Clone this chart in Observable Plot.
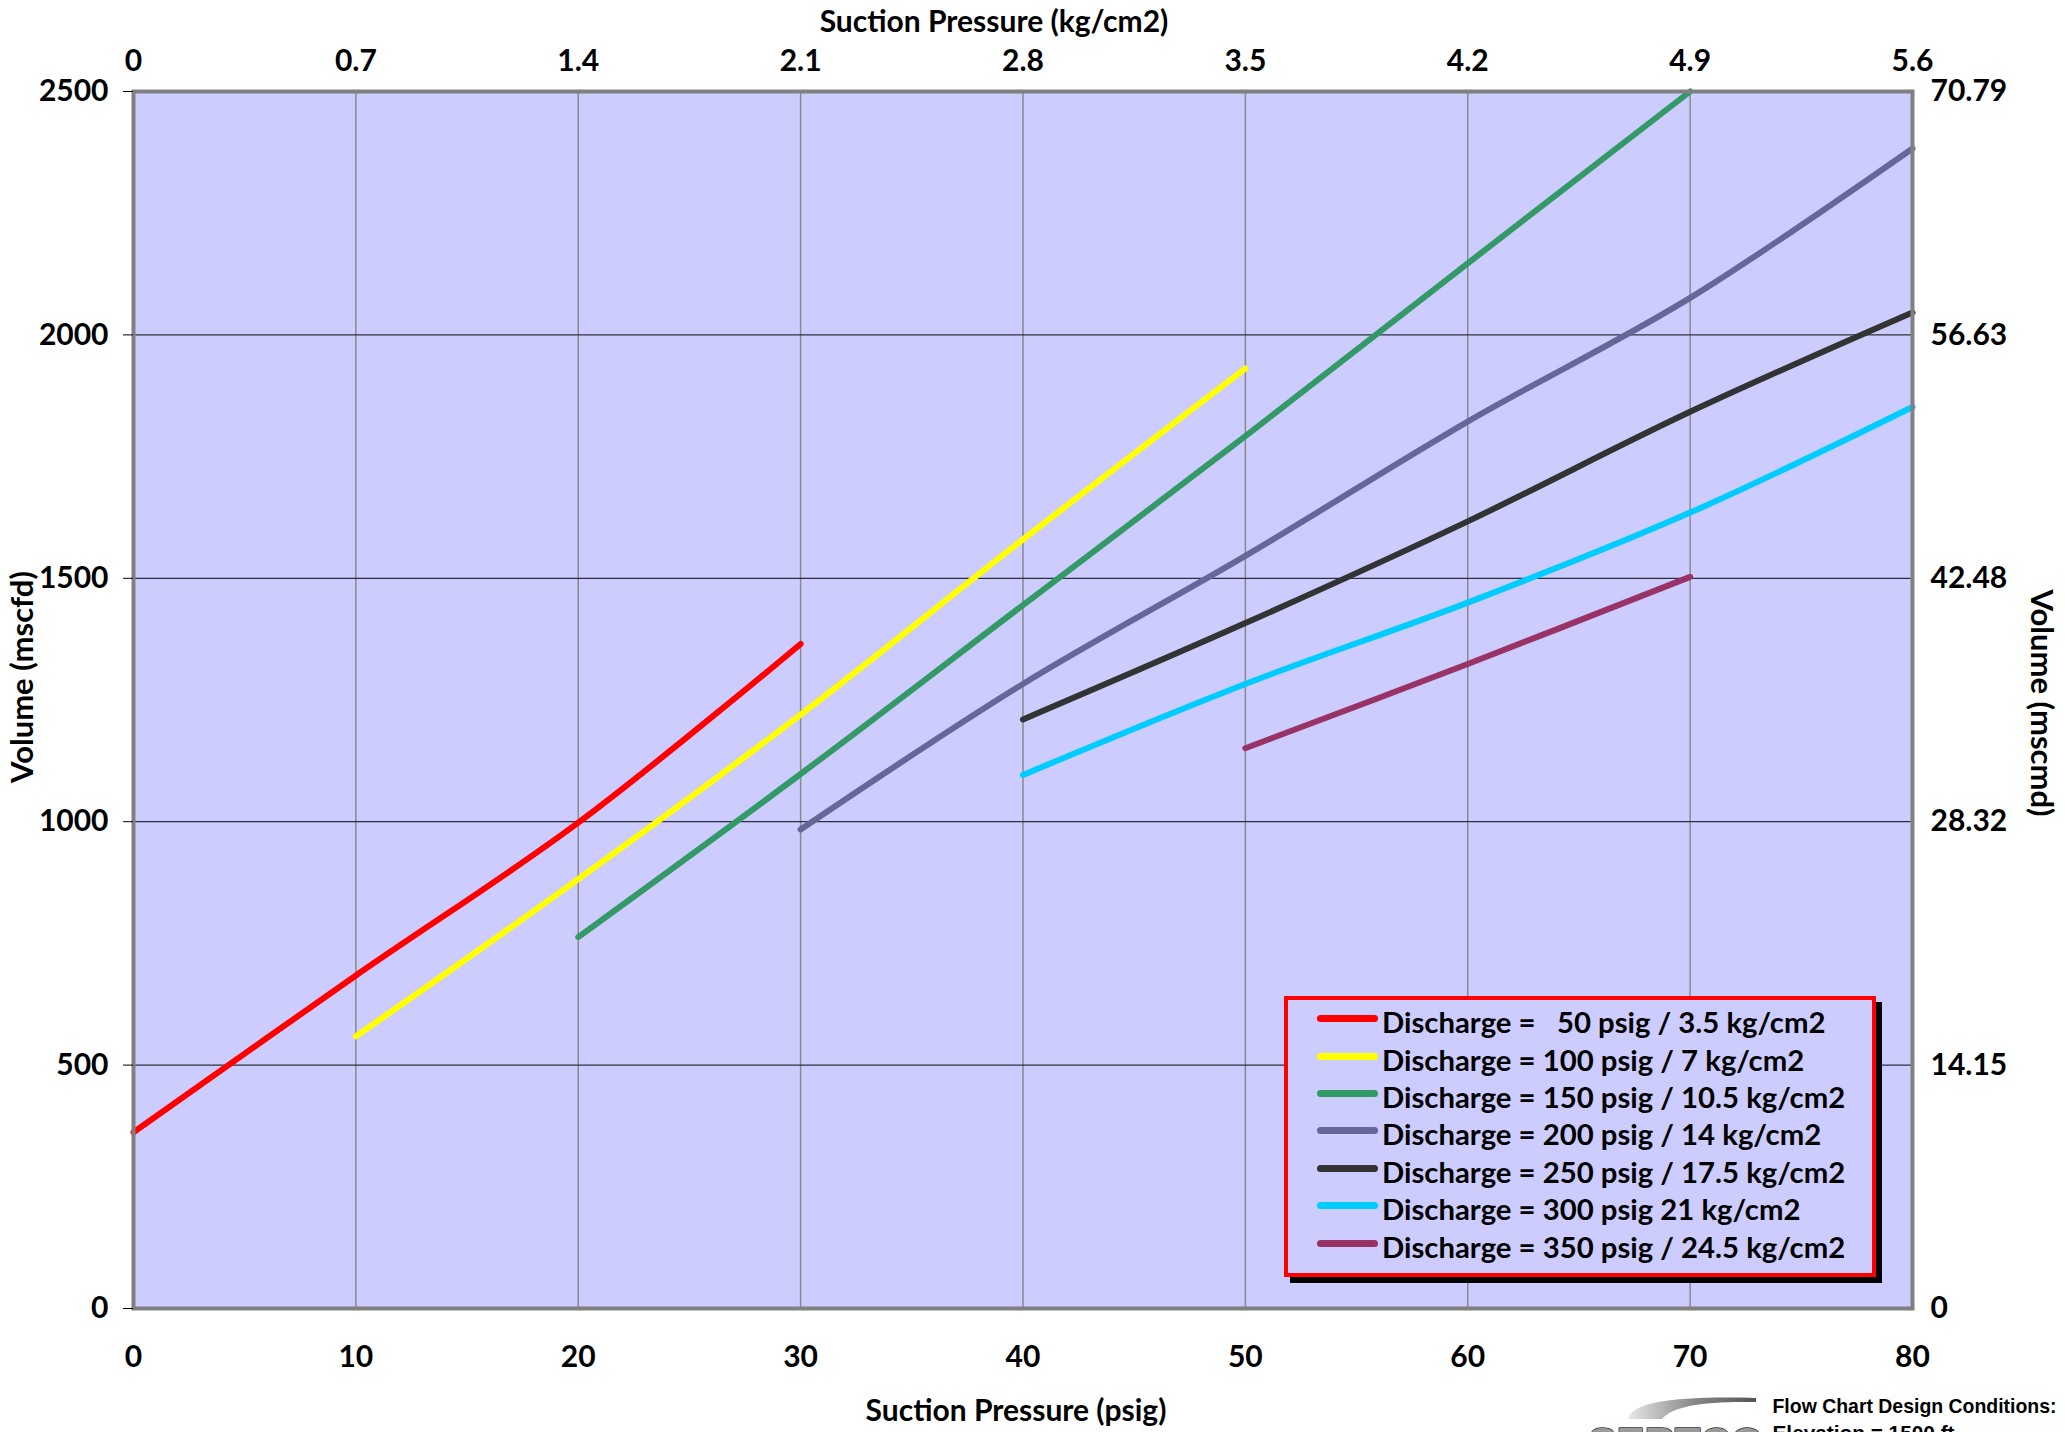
<!DOCTYPE html>
<html><head><meta charset="utf-8">
<script src="https://cdn.jsdelivr.net/npm/d3@7"></script>
<script src="https://cdn.jsdelivr.net/npm/@observablehq/plot@0.6"></script>
<style>
html,body{margin:0;padding:0;background:#fff;}
#wrap{position:relative;width:2065px;height:1432px;overflow:hidden;}
#legend{position:absolute;left:1284px;top:996px;width:592px;height:281px;box-sizing:border-box;border:4px solid #ff0000;background:#CCCCFF;box-shadow:6px 6px 0 #000;font-family:Lato,sans-serif;font-weight:bold;font-size:29.3px;color:#000;}
.row{display:flex;align-items:center;height:37.4px;white-space:pre;}
.sw{width:61px;height:7px;border-radius:4px;margin-left:29px;margin-right:4px;flex:none;}
.lt{position:relative;top:3px;}
</style></head><body><div id="wrap"></div>
<script>
// ---- data ----
const suctionPsig = [0, 10, 20, 30, 40, 50, 60, 70, 80];
const seriesNames = [
  "Discharge =   50 psig / 3.5 kg/cm2",
  "Discharge = 100 psig / 7 kg/cm2",
  "Discharge = 150 psig / 10.5 kg/cm2",
  "Discharge = 200 psig / 14 kg/cm2",
  "Discharge = 250 psig / 17.5 kg/cm2",
  "Discharge = 300 psig 21 kg/cm2",
  "Discharge = 350 psig / 24.5 kg/cm2"
];
const discharge50  = [362, 684, 998, 1365, null, null, null, null, null];
const discharge100 = [null, 559, 882, 1220, 1580, 1931, null, null, null];
const discharge150 = [null, null, 763, 1098, 1445, 1792, 2147, 2500, null];
const discharge200 = [null, null, null, 984, 1283, 1546, 1822, 2076, 2383];
const discharge250 = [null, null, null, null, 1210, 1408, 1617, 1842, 2046];
const discharge300 = [null, null, null, null, 1096, 1283, 1450, 1635, 1852];
const discharge350 = [null, null, null, null, null, 1151, 1324, 1503, null];
const seriesValues = [discharge50, discharge100, discharge150, discharge200, discharge250, discharge300, discharge350];

const xTicks = [0, 10, 20, 30, 40, 50, 60, 70, 80];
const topLabels = ["0", "0.7", "1.4", "2.1", "2.8", "3.5", "4.2", "4.9", "5.6"];
const yTicks = [0, 500, 1000, 1500, 2000, 2500];
const rightLabels = ["0", "14.15", "28.32", "42.48", "56.63", "70.79"];

// ---- styles ----
const colors = ["#FF0000", "#FFFF00", "#339966", "#666699", "#333333", "#00CCFF", "#993366"];

const rows = [];
seriesNames.forEach((name, s) => {
  seriesValues[s].forEach((v, i) => {
    if (v != null) rows.push({name, psig: suctionPsig[i], volume: v});
  });
});
const topMap = new Map(xTicks.map((v, i) => [v, topLabels[i]]));
const rightMap = new Map(yTicks.map((v, i) => [v, rightLabels[i]]));

const font = "Lato, sans-serif";
const fs = 30;
const footFont = "Liberation Sans, Arial, sans-serif";
const chart = Plot.plot({
  width: 2065, height: 1432,
  marginLeft: 133, marginRight: 153, marginTop: 91, marginBottom: 124,
  style: {fontFamily: font, fontSize: "30px", fontWeight: "bold", background: "#fff", color: "#000"},
  x: {domain: [0, 80], axis: null, label: null},
  y: {domain: [0, 2500], axis: null, label: null},
  color: {domain: seriesNames, range: colors},
  marks: [
    Plot.frame({fill: "#CCCCFF"}),
    Plot.gridX(xTicks, {stroke: "#8a8a8a", strokeOpacity: 1, strokeWidth: 1.5}),
    Plot.gridY(yTicks, {stroke: "#2e2e3a", strokeOpacity: 1, strokeWidth: 1.3}),
    Plot.line(rows, {x: "psig", y: "volume", z: "name", stroke: "name", strokeWidth: 6, strokeLinecap: "round", strokeLinejoin: "round", curve: "catmull-rom"}),
    Plot.frame({stroke: "#808080", strokeWidth: 4}),
    Plot.axisY(yTicks, {anchor: "left", tickSize: 10, tickPadding: 15, label: null, fontWeight: "bold", fontSize: fs, tickFormat: d => String(d)}),
    Plot.axisY(yTicks, {anchor: "right", tickSize: 0, tickPadding: 18, label: null, fontWeight: "bold", fontSize: fs, tickFormat: d => rightMap.get(d)}),
    Plot.axisX(xTicks, {anchor: "bottom", tickSize: 0, tickPadding: 37, label: null, fontWeight: "bold", fontSize: fs, tickFormat: d => String(d)}),
    Plot.axisX(xTicks, {anchor: "top", tickSize: 0, tickPadding: 21, label: null, fontWeight: "bold", fontSize: fs, tickFormat: d => topMap.get(d)}),
    Plot.text(["Suction Pressure (kg/cm2)"], {frameAnchor: "top", textAnchor: "middle", dx: -29, dy: -81, fontSize: fs, fontWeight: "bold"}),
    Plot.text(["Suction Pressure (psig)"], {frameAnchor: "bottom", textAnchor: "middle", dx: -7, dy: 112, fontSize: fs, fontWeight: "bold"}),
    Plot.text(["Volume (mscfd)"], {frameAnchor: "left", textAnchor: "middle", rotate: -90, dx: -110, dy: -23, fontSize: 31, fontWeight: "bold"}),
    Plot.text(["Volume (mscmd)"], {frameAnchor: "right", textAnchor: "middle", rotate: 90, dx: 128, dy: 3, fontSize: 31, fontWeight: "bold"}),
    Plot.text(["Flow Chart Design Conditions:"], {className: "foot1", frameAnchor: "bottom-right", textAnchor: "start", lineAnchor: "bottom", dx: -140, dy: 104, fontFamily: footFont, fontWeight: "bold", fontSize: 21}),
    Plot.text(["Elevation = 1500 ft"], {className: "foot2", frameAnchor: "bottom-right", textAnchor: "start", lineAnchor: "bottom", dx: -140, dy: 131, fontFamily: footFont, fontWeight: "bold", fontSize: 21}),
    Plot.text(["SERTCO"], {frameAnchor: "bottom-right", textAnchor: "start", lineAnchor: "bottom", dx: -324, dy: 148, fontFamily: footFont, fontWeight: "bold", fontSize: 42, fill: "#9a9a9a", stroke: "#333", strokeWidth: 1.5})
  ]
});

const wrap = document.getElementById("wrap");
wrap.appendChild(chart);

const svg = d3.select(chart);
// condensed footer text like the original narrow font
svg.selectAll(".foot1 text").attr("textLength", 284).attr("lengthAdjust", "spacingAndGlyphs");
svg.selectAll(".foot2 text").attr("textLength", 182).attr("lengthAdjust", "spacingAndGlyphs");

// decorative logo swoosh
const defs = svg.append("defs");
const g = defs.append("linearGradient").attr("id", "sw").attr("x1", "0").attr("x2", "1").attr("y1", "0").attr("y2", "0");
g.append("stop").attr("offset", "0").attr("stop-color", "#e8e8e8");
g.append("stop").attr("offset", "0.5").attr("stop-color", "#8a8a8a");
g.append("stop").attr("offset", "1").attr("stop-color", "#555");
svg.append("path")
  .attr("d", "M1628,1419 C1632,1401 1680,1396 1756,1398 L1756,1402 C1705,1401 1672,1406 1662,1419 Z")
  .attr("fill", "url(#sw)");

// legend
const legend = document.createElement("div");
legend.id = "legend";
seriesNames.forEach((name, i) => {
  const row = document.createElement("div");
  row.className = "row";
  const sw = document.createElement("span");
  sw.className = "sw";
  sw.style.background = colors[i];
  const t = document.createElement("span");
  t.className = "lt";
  t.textContent = name;
  row.appendChild(sw);
  row.appendChild(t);
  legend.appendChild(row);
});
wrap.appendChild(legend);
</script></body></html>
